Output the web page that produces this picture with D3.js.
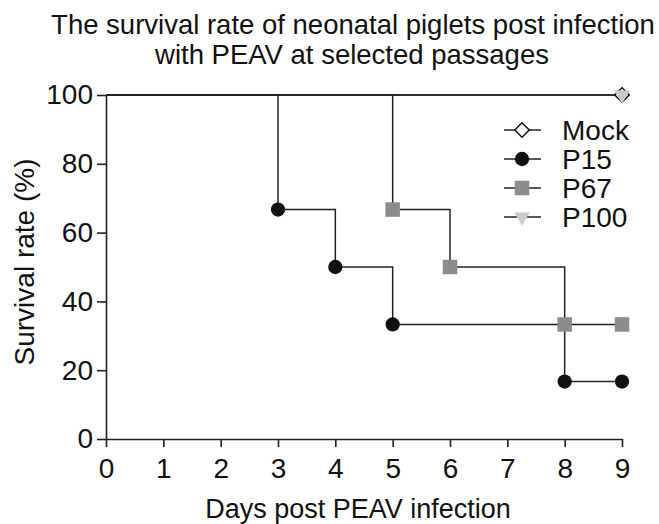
<!DOCTYPE html>
<html>
<head>
<meta charset="utf-8">
<script src="https://cdn.jsdelivr.net/npm/d3@7"></script>
<style>
  body { margin: 0; background: #fff; }
  svg { font-family: "Liberation Sans", Arial, sans-serif; }
</style>
</head>
<body>
<svg id="chart" width="659" height="524"></svg>
<script>
// data
const days = [0, 1, 2, 3, 4, 5, 6, 7, 8, 9];
const yTicks = [0, 20, 40, 60, 80, 100];
const seriesNames = ['Mock', 'P15', 'P67', 'P100'];
// step curves: [day, survival]
const mockSteps = [[0, 100], [9, 100]];
const p15Steps = [[0, 100], [3, 66.7], [4, 50], [5, 33.3], [8, 16.7], [9, 16.7]];
const p67Steps = [[0, 100], [5, 66.7], [6, 50], [8, 33.3], [9, 33.3]];
const p100Steps = [[0, 100], [9, 100]];
// marker points
const mockPts = [[9, 100]];
const p15Pts = [[3, 66.7], [4, 50], [5, 33.3], [8, 16.7], [9, 16.7]];
const p67Pts = [[5, 66.7], [6, 50], [8, 33.3], [9, 33.3]];
const p100Pts = [[9, 100]];

let svg = d3.select('#chart');

let x = d3.scaleLinear().domain([0, 9]).range([106, 622]);
let y = d3.scaleLinear().domain([0, 100]).range([439, 95]);

// axes
let xAxis = svg.append('g')
    .attr('transform', `translate(0,${y(0)})`)
    .call(d3.axisBottom(x).tickValues(days).tickSize(8).tickSizeOuter(0).tickPadding(11));
let yAxis = svg.append('g')
    .attr('transform', `translate(${x(0)},0)`)
    .call(d3.axisLeft(y).tickValues(yTicks).tickSize(9).tickSizeOuter(0).tickPadding(4));

[xAxis, yAxis].forEach(function(a){
    a.select('.domain').attr('stroke', '#222').attr('stroke-width', 1.6);
    a.selectAll('.tick line').attr('stroke', '#222').attr('stroke-width', 1.6);
    a.selectAll('.tick text')
        .attr('font-size', 28)
        .attr('fill', '#111')
        .attr('font-family', '"Liberation Sans", Arial, sans-serif');
});

// step lines
let step = d3.line()
    .x(d => x(d[0]))
    .y(d => y(d[1]))
    .curve(d3.curveStepAfter);

[mockSteps, p15Steps, p67Steps, p100Steps].forEach(function(s){
    svg.append('path')
        .attr('d', step(s))
        .attr('fill', 'none')
        .attr('stroke', '#222')
        .attr('stroke-width', 1.5);
});

// markers (mock diamond = square turned 45deg)
const markerStyle = {
    Mock: {type: d3.symbolSquare, size: 105, fill: '#fff', stroke: '#111', rot: 45},
    P15: {type: d3.symbolCircle, size: 160, fill: '#111', stroke: 'none'},
    P67: {type: d3.symbolSquare, size: 210, fill: '#8c8c8c', stroke: 'none'},
    P100: {type: d3.symbolTriangle, size: 100, fill: '#c9c9c9', stroke: 'none', rot: 180}
};

function drawMarkers(pts, name){
    let m = markerStyle[name];
    svg.append('g').selectAll('path')
        .data(pts)
        .enter()
        .append('path')
        .attr('d', d3.symbol().type(m.type).size(m.size))
        .attr('transform', d => `translate(${x(d[0])},${y(d[1])}) rotate(${m.rot || 0})`)
        .attr('fill', m.fill)
        .attr('stroke', m.stroke)
        .attr('stroke-width', 1.5);
}

drawMarkers(mockPts, 'Mock');
drawMarkers(p15Pts, 'P15');
drawMarkers(p67Pts, 'P67');
drawMarkers(p100Pts, 'P100');

// legend
let legend = svg.append('g').attr('transform', 'translate(522,130)');
seriesNames.forEach(function(name, i){
    let m = markerStyle[name];
    let row = legend.append('g').attr('transform', `translate(0,${i * 29})`);
    row.append('line')
        .attr('x1', -18).attr('x2', 19)
        .attr('stroke', '#222').attr('stroke-width', 1.5);
    row.append('path')
        .attr('d', d3.symbol().type(m.type).size(m.size))
        .attr('transform', `rotate(${m.rot || 0})`)
        .attr('fill', m.fill)
        .attr('stroke', m.stroke)
        .attr('stroke-width', 1.5);
    row.append('text')
        .attr('x', 40)
        .attr('dy', '0.36em')
        .attr('font-size', 28)
        .attr('fill', '#111')
        .text(name);
});

// titles
svg.append('text')
    .attr('x', 353).attr('y', 34)
    .attr('text-anchor', 'middle')
    .attr('font-size', 27.5)
    .attr('fill', '#111')
    .text('The survival rate of neonatal piglets post infection');
svg.append('text')
    .attr('x', 352).attr('y', 64)
    .attr('text-anchor', 'middle')
    .attr('font-size', 27.5)
    .attr('fill', '#111')
    .text('with PEAV at selected passages');

svg.append('text')
    .attr('x', 358).attr('y', 518)
    .attr('text-anchor', 'middle')
    .attr('font-size', 27)
    .attr('fill', '#111')
    .text('Days post PEAV infection');

svg.append('text')
    .attr('transform', 'translate(34,262) rotate(-90)')
    .attr('text-anchor', 'middle')
    .attr('font-size', 28)
    .attr('fill', '#111')
    .text('Survival rate (%)');
</script>
</body>
</html>
